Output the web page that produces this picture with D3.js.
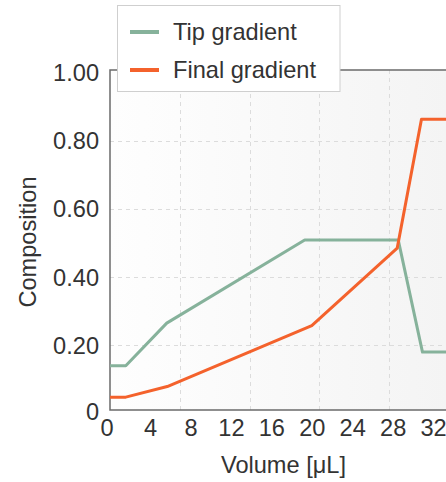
<!DOCTYPE html>
<html>
<head>
<meta charset="utf-8">
<script src="https://cdn.jsdelivr.net/npm/d3@7"></script>
<style>
  html, body { margin: 0; padding: 0; background: #fff; }
  svg { display: block; font-family: "Liberation Sans", Arial, sans-serif; }
</style>
</head>
<body>
<svg id="chart" width="446" height="482"></svg>
<script>
// ---- data ----
const seriesNames = ["Tip gradient", "Final gradient"];
const seriesColors = ["#86b29b", "#f4622c"];
const tipVolume = [0, 1.6, 5.65, 19.3, 28.55, 30.95, 40];
const tipComposition = [0.14, 0.14, 0.265, 0.509, 0.509, 0.18, 0.18];
const finalVolume = [0, 1.6, 5.7, 20, 28.45, 30.85, 40];
const finalComposition = [0.048, 0.048, 0.079, 0.258, 0.485, 0.863, 0.863];
const xTicks = [0, 4, 8, 12, 16, 20, 24, 28, 32];
const yTicks = [0, 0.2, 0.4, 0.6, 0.8, 1.0];
const xGrid = [6.92, 13.84, 20.76, 27.68, 34.6];
const yGrid = [0.2, 0.4, 0.6, 0.8];

// ---- layout ----
const svg = d3.select("#chart");
const frame = { left: 110, top: 70, right: 446, bottom: 410 };
const x = d3.scaleLinear().domain([0, 32]).range([109.6, 433.1]);
const y = d3.scaleLinear().domain([0, 1]).range([413.5, 72.5]);
const textColor = "#333";
const fontSize = 23.6;

// background gradient
const defs = svg.append("defs");
const grad = defs.append("linearGradient").attr("id", "bg")
  .attr("x1", "0%").attr("x2", "100%").attr("y1", "0%").attr("y2", "0%");
grad.append("stop").attr("offset", "0%").attr("stop-color", "#fefefe");
grad.append("stop").attr("offset", "100%").attr("stop-color", "#f4f4f4");
defs.append("clipPath").attr("id", "clip").append("rect")
  .attr("x", frame.left).attr("y", frame.top)
  .attr("width", frame.right - frame.left).attr("height", frame.bottom - frame.top);

svg.append("rect")
  .attr("x", frame.left).attr("y", frame.top)
  .attr("width", frame.right - frame.left).attr("height", frame.bottom - frame.top)
  .attr("fill", "url(#bg)");

// grid
const grid = svg.append("g").attr("clip-path", "url(#clip)")
  .attr("stroke", "#dcdcdc").attr("stroke-width", 1).attr("stroke-dasharray", "4,4");
grid.selectAll("line.v").data(xGrid).join("line").attr("class", "v")
  .attr("x1", d => Math.round(x(d)) + 0.5).attr("x2", d => Math.round(x(d)) + 0.5)
  .attr("y1", frame.top).attr("y2", frame.bottom);
grid.selectAll("line.h").data(yGrid).join("line").attr("class", "h")
  .attr("y1", d => Math.round(y(d)) + 0.5).attr("y2", d => Math.round(y(d)) + 0.5)
  .attr("x1", frame.left).attr("x2", frame.right);

// frame lines (left, bottom, top)
svg.append("path")
  .attr("d", `M${frame.right},${frame.top}H${frame.left}V${frame.bottom}H${frame.right}`)
  .attr("fill", "none").attr("stroke", "#6b6b6b").attr("stroke-width", 1.5);

// series lines
const line = d3.line().x(d => x(d[0])).y(d => y(d[1]));
const series = [
  d3.zip(tipVolume, tipComposition),
  d3.zip(finalVolume, finalComposition)
];
const lines = svg.append("g").attr("clip-path", "url(#clip)");
series.forEach((s, i) => {
  lines.append("path").datum(s).attr("d", line)
    .attr("fill", "none").attr("stroke", seriesColors[i])
    .attr("stroke-width", 3).attr("stroke-linejoin", "round");
});

// x axis
const xAxis = d3.axisBottom(x).tickValues(xTicks).tickSize(0).tickPadding(0)
  .tickFormat(d => String(d));
const gx = svg.append("g").attr("transform", `translate(0,${frame.bottom})`).call(xAxis);
gx.select(".domain").remove();
gx.selectAll("text").attr("font-size", fontSize).attr("fill", textColor)
  .attr("font-family", "'Liberation Sans', Arial, sans-serif")
  .attr("dy", null).attr("y", 18).attr("dominant-baseline", "central");
gx.selectAll(".tick").filter(d => d === 0).select("text").attr("x", -3);

// y axis
const yAxis = d3.axisLeft(y).tickValues(yTicks).tickSize(0).tickPadding(0)
  .tickFormat(d => d === 0 ? "0" : d3.format(".2f")(d));
const gy = svg.append("g").attr("transform", `translate(99,0)`).call(yAxis);
gy.select(".domain").remove();
gy.selectAll("text").attr("font-size", fontSize).attr("fill", textColor)
  .attr("font-family", "'Liberation Sans', Arial, sans-serif")
  .attr("dy", null).attr("x", 0).attr("dominant-baseline", "central");
gy.selectAll(".tick").filter(d => d === 0).select("text").attr("y", -2);

// axis titles
svg.append("text").text("Volume [μL]")
  .attr("x", 283.5).attr("y", 465).attr("text-anchor", "middle")
  .attr("dominant-baseline", "central")
  .attr("font-size", fontSize).attr("fill", textColor);
svg.append("text").text("Composition")
  .attr("transform", "translate(28,242) rotate(-90)")
  .attr("text-anchor", "middle").attr("dominant-baseline", "central")
  .attr("font-size", fontSize).attr("fill", textColor);

// legend
const legend = svg.append("g");
legend.append("rect")
  .attr("x", 117.5).attr("y", 5.5).attr("width", 222.5).attr("height", 86)
  .attr("fill", "#fff").attr("stroke", "#cfcfcf").attr("stroke-width", 1);
const legendY = [32, 70];
seriesNames.forEach((name, i) => {
  legend.append("line")
    .attr("x1", 130).attr("x2", 159).attr("y1", legendY[i]).attr("y2", legendY[i])
    .attr("stroke", seriesColors[i]).attr("stroke-width", 4);
  legend.append("text").text(name)
    .attr("x", 173).attr("y", legendY[i]).attr("dominant-baseline", "central")
    .attr("font-size", fontSize).attr("fill", textColor);
});
</script>
</body>
</html>
